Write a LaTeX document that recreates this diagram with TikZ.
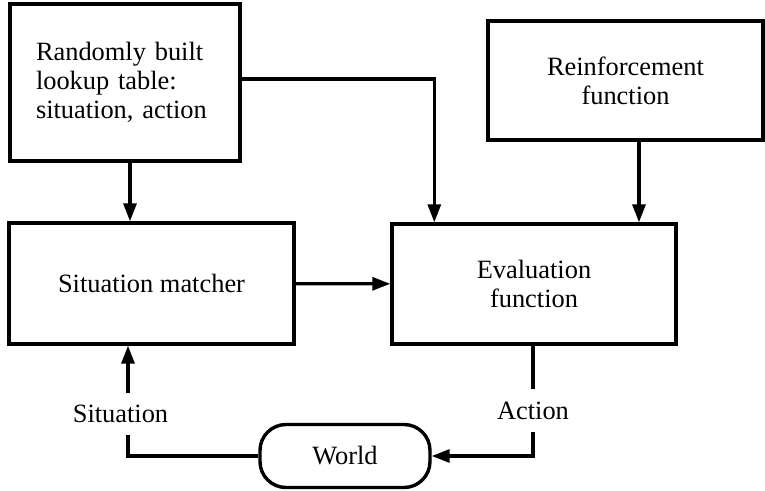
\documentclass[tikz,border=0pt]{standalone}
\usepackage{fontspec}
\setmainfont{Liberation Serif}
\usepackage{tikz}
\usetikzlibrary{arrows.meta,calc}
\tikzset{
>={Triangle[width=13pt,length=18pt]},
box node/.style={draw,line width=3.4pt,inner sep=0pt},
label node/.style={inner xsep=2pt,inner ysep=12pt},
flow/.style={->,line width=3.2pt},
link/.style={line width=3.2pt}}

\begin{document}
\begin{tikzpicture}[x=1pt,y=-1pt,font=\fontsize{26.4}{29}\selectfont]
\useasboundingbox (0,0) rectangle (765,490);

\node[box node,minimum width=230,minimum height=157,text width=178,align=left] (table) at (125,82.5) {Randomly built\\lookup table:\\situation, action};
\node[box node,minimum width=275,minimum height=119,align=center] (reinf) at (625.5,80.5) {Reinforcement\\function};
\node[box node,minimum width=285,minimum height=121] (matcher) at (151.5,283.5) {Situation matcher};
\node[box node,minimum width=284,minimum height=120,align=center] (eval) at (534,284) {Evaluation\\function};
\node[box node,rounded corners=26pt,minimum width=170,minimum height=63] (world) at (345,456) {World};

\node[label node] (act) at (533,410.5) {Action};
\node[label node] (sit) at (120.5,414) {Situation};
\coordinate (sitline) at (128,456);

\draw[flow] ([xshift=5pt]table.south) -- ([xshift=5pt]table.south |- matcher.north);
\draw[flow] ([yshift=3.5pt]table.east) -| ([xshift=44pt]eval.north west);
\draw[flow] ([xshift=13.5pt]reinf.south) -- ([xshift=13.5pt]reinf.south |- eval.north);
\draw[flow] (matcher) -- (eval);

\draw[link] (eval.south -| act) -- (act.north);
\draw[flow] (act.south) -- (act |- world.east) -- (world.east);
\draw[link] (world.west) -- (sitline) -- (sitline |- sit.south);
\draw[flow] (sitline |- sit.north) -- (sitline |- matcher.south);
\end{tikzpicture}
\end{document}
